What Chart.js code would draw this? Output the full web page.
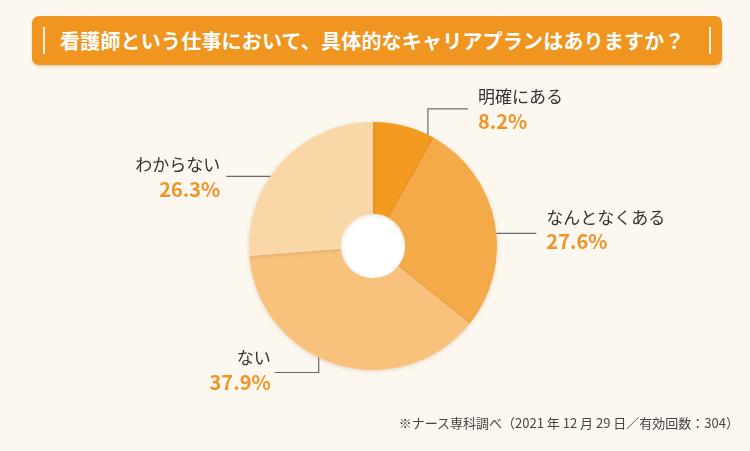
<!DOCTYPE html>
<html lang="ja">
<head>
<meta charset="utf-8">
<script src="https://cdn.jsdelivr.net/npm/chart.js@4.4.1/dist/chart.umd.min.js"></script>
<style>
  html, body { margin: 0; padding: 0; }
  body {
    width: 750px; height: 451px; overflow: hidden; position: relative;
    background: #fdf8ef;
    font-family: "Noto Sans CJK JP", "Noto Sans", sans-serif;
  }
  .banner {
    position: absolute; left: 32px; top: 16px; width: 690px; height: 49px;
    background: #f0951f; border-radius: 7px;
    box-shadow: 0 2px 3px rgba(150, 100, 40, 0.25);
  }
  .banner .bar {
    position: absolute; top: 11px; width: 2px; height: 27px; background: #fff3e0;
  }
  .banner h1 {
    margin: 0; position: absolute; left: 28px; top: 0; line-height: 49px;
    font-size: 20px; font-weight: bold; color: #fff; letter-spacing: 0.2px;
  }
  .source {
    position: absolute; right: 11px; top: 413px;
    font-size: 13px; color: #444;
  }
  canvas { position: absolute; left: 0; top: 0; }
</style>
</head>
<body>
<div class="banner">
  <div class="bar" style="left:11px"></div>
  <h1>看護師という仕事において、具体的なキャリアプランはありますか？</h1>
  <div class="bar" style="right:11px"></div>
</div>
<canvas id="chart" width="750" height="451"></canvas>
<div class="source">※ナース専科調べ（2021 年 12 月 29 日／有効回数：304）</div>

<script>
// answers, share in %
const answers = ['明確にある', 'なんとなくある', 'ない', 'わからない'];
const shares = [8.2, 27.6, 37.9, 26.3];
const sliceColors = ['#f39a1f', '#f4aa48', '#f8c27c', '#fad7a7'];

// where the leader leaves each slice (fraction along the arc) and how it bends
const leaders = [
  { t: 0.89, path: [[0, -26], [40, -26]], align: 'left', tx: 50, ly: -12, py: 13 },
  { t: 0.55, path: [[40, 0]], align: 'left', tx: 50, ly: -16, py: 8 },
  { t: 0.565, path: [[0, 15], [-44, 15]], align: 'right', tx: -48, ly: -15, py: 10 },
  { t: 0.41, path: [[-44, 0]], align: 'right', tx: -50, ly: -12, py: 13 }
];

const font = '"Noto Sans CJK JP", "Noto Sans", sans-serif';

const sliceShadow = {
  id: 'sliceShadow',
  beforeDatasetDraw(chart) {
    const ctx = chart.ctx;
    const arc = chart.getDatasetMeta(0).data[0];
    // white hole in the middle
    ctx.save();
    ctx.fillStyle = '#ffffff';
    ctx.beginPath();
    ctx.arc(arc.x, arc.y, arc.innerRadius + 1, 0, Math.PI * 2);
    ctx.fill();
    ctx.restore();

    ctx.save();
    ctx.shadowColor = 'rgba(120, 80, 30, 0.22)';
    ctx.shadowBlur = 4;
    ctx.shadowOffsetY = 1;
  },
  afterDatasetDraw(chart) {
    chart.ctx.restore();
  }
};

const leaderLabels = {
  id: 'leaderLabels',
  afterDraw(chart) {
    const ctx = chart.ctx;
    const arcs = chart.getDatasetMeta(0).data;
    arcs.forEach((arc, i) => {
      const l = leaders[i];
      const a = arc.startAngle + l.t * (arc.endAngle - arc.startAngle);
      const sx = arc.x + Math.cos(a) * arc.outerRadius;
      const sy = arc.y + Math.sin(a) * arc.outerRadius;

      ctx.save();
      ctx.strokeStyle = '#6a6a6a';
      ctx.lineWidth = 1.2;
      ctx.beginPath();
      ctx.moveTo(sx, sy);
      l.path.forEach(([dx, dy]) => ctx.lineTo(sx + dx, sy + dy));
      ctx.stroke();

      const end = l.path[l.path.length - 1];
      const ey = sy + end[1];
      const tx = sx + l.tx;
      ctx.textAlign = l.align;
      ctx.textBaseline = 'middle';
      ctx.fillStyle = '#333';
      ctx.font = '17px ' + font;
      ctx.fillText(answers[i], tx, ey + l.ly);
      ctx.fillStyle = '#ef9428';
      ctx.font = 'bold 20px ' + font;
      ctx.fillText(shares[i].toFixed(1) + '%', tx, ey + l.py);
      ctx.restore();
    });
  }
};

new Chart(document.getElementById('chart'), {
  type: 'doughnut',
  data: {
    labels: answers,
    datasets: [{
      data: shares,
      backgroundColor: sliceColors,
      borderWidth: 0
    }]
  },
  options: {
    responsive: false,
    animation: false,
    cutout: '26%',
    layout: { padding: { left: 249, right: 253, top: 122, bottom: 81 } },
    plugins: {
      legend: { display: false },
      tooltip: { enabled: false }
    }
  },
  plugins: [sliceShadow, leaderLabels]
});
</script>
</body>
</html>
